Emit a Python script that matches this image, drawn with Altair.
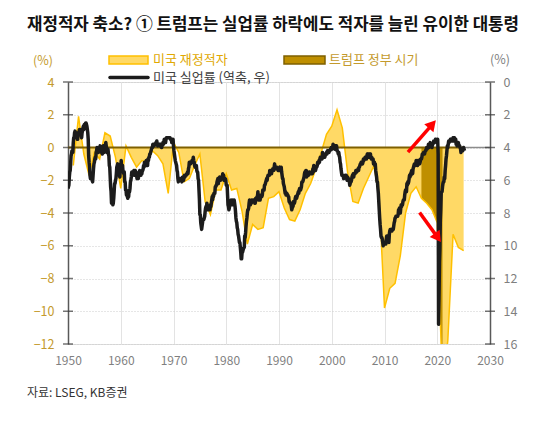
import math

import altair as alt
import pandas as pd

# ---------------------------------------------------------------- text
TITLE = "재정적자 축소? ① 트럼프는 실업률 하락에도 적자를 늘린 유이한 대통령"
SOURCE = "자료: LSEG, KB증권"
UNIT = "(%)"
LABEL_DEFICIT = "미국 재정적자"
LABEL_TRUMP = "트럼프 정부 시기"
LABEL_UNEMP = "미국 실업률 (역축, 우)"

YEAR_TICKS = [1950, 1960, 1970, 1980, 1990, 2000, 2010, 2020, 2030]
LEFT_TICKS = [-12, -10, -8, -6, -4, -2, 0, 2, 4]
RIGHT_TICKS = [0, 2, 4, 6, 8, 10, 12, 14, 16]

# ---------------------------------------------------------------- data
# Federal budget balance, % of GDP, by fiscal year
FISCAL_YEARS = list(range(1950, 2025))
BUDGET_BALANCE = [
    -1.1, 1.9, -0.4, -1.7, -0.3, -0.7, 0.9, 0.7, -0.6, -2.5,      # 1950s
    0.1, -0.6, -1.2, -0.8, -0.9, -0.2, -0.5, -1.0, -2.8, 0.3,     # 1960s
    -0.3, -2.1, -1.9, -1.1, -0.4, -3.3, -4.1, -2.6, -2.6, -1.6,   # 1970s
    -2.6, -2.5, -3.9, -5.9, -4.7, -5.0, -4.9, -3.1, -3.0, -2.7,   # 1980s
    -3.7, -4.4, -4.5, -3.8, -2.8, -2.2, -1.3, -0.3, 0.8, 1.3,     # 1990s
    2.3, 1.2, -1.5, -3.3, -3.4, -2.5, -1.8, -1.1, -3.1, -9.8,     # 2000s
    -8.6, -8.3, -6.6, -4.0, -2.8, -2.4, -3.1, -3.4, -3.8, -4.6,   # 2010s
    -14.7, -11.8, -5.3, -6.1, -6.3,                               # 2020s
]

# Trump administration, on the chart's time axis
TRUMP_FROM, TRUMP_TO = 2017, 2021

# Monthly unemployment rate (%), from January 1950
UNEMP_FIRST_YEAR = 1950
UNEMP_1950S = [
    6.5, 6.4, 6.3, 5.8, 5.5, 5.4, 5.0, 4.5, 4.4, 4.2, 4.2, 4.3,
    3.7, 3.4, 3.4, 3.1, 3.0, 3.2, 3.1, 3.1, 3.3, 3.5, 3.5, 3.1,
    3.2, 3.1, 2.9, 2.9, 3.0, 3.0, 3.2, 3.4, 3.1, 3.0, 2.8, 2.7,
    2.9, 2.6, 2.6, 2.7, 2.5, 2.5, 2.6, 2.7, 2.9, 3.1, 3.5, 4.5,
    4.9, 5.2, 5.7, 5.9, 5.9, 5.6, 5.8, 6.0, 6.1, 5.7, 5.3, 5.0,
    4.9, 4.7, 4.6, 4.7, 4.3, 4.2, 4.0, 4.2, 4.1, 4.3, 4.2, 4.2,
    4.0, 3.9, 4.2, 4.0, 4.3, 4.3, 4.4, 4.1, 3.9, 3.9, 4.3, 4.2,
    4.2, 3.9, 3.7, 3.9, 4.1, 4.3, 4.2, 4.1, 4.4, 4.5, 5.1, 5.2,
    5.8, 6.4, 6.7, 7.4, 7.4, 7.3, 7.5, 7.4, 7.1, 6.7, 6.2, 6.2,
    6.0, 5.9, 5.6, 5.2, 5.1, 5.0, 5.1, 5.2, 5.5, 5.7, 5.8, 5.3,
]
UNEMP_1960S = [
    5.2, 4.8, 5.4, 5.2, 5.1, 5.4, 5.5, 5.6, 5.5, 6.1, 6.1, 6.6,
    6.6, 6.9, 6.9, 7.0, 7.1, 6.9, 7.0, 6.6, 6.7, 6.5, 6.1, 6.0,
    5.8, 5.5, 5.6, 5.6, 5.5, 5.5, 5.4, 5.7, 5.6, 5.4, 5.7, 5.5,
    5.7, 5.9, 5.7, 5.7, 5.9, 5.6, 5.6, 5.4, 5.5, 5.5, 5.7, 5.5,
    5.6, 5.4, 5.4, 5.3, 5.1, 5.2, 4.9, 5.0, 5.1, 5.1, 4.8, 5.0,
    4.9, 5.1, 4.7, 4.8, 4.6, 4.6, 4.4, 4.4, 4.3, 4.2, 4.1, 4.0,
    4.0, 3.8, 3.8, 3.8, 3.9, 3.8, 3.8, 3.8, 3.7, 3.7, 3.6, 3.8,
    3.9, 3.8, 3.8, 3.8, 3.8, 3.9, 3.8, 3.8, 3.8, 4.0, 3.9, 3.8,
    3.7, 3.8, 3.7, 3.5, 3.5, 3.7, 3.7, 3.5, 3.4, 3.4, 3.4, 3.4,
    3.4, 3.4, 3.4, 3.4, 3.4, 3.5, 3.5, 3.5, 3.7, 3.7, 3.5, 3.5,
]
UNEMP_1970S = [
    3.9, 4.2, 4.4, 4.6, 4.8, 4.9, 5.0, 5.1, 5.4, 5.5, 5.9, 6.1,
    5.9, 5.9, 6.0, 5.9, 5.9, 5.9, 6.0, 6.1, 6.0, 5.8, 6.0, 6.0,
    5.8, 5.7, 5.8, 5.7, 5.7, 5.7, 5.6, 5.6, 5.5, 5.6, 5.3, 5.2,
    4.9, 5.0, 4.9, 5.0, 4.9, 4.9, 4.8, 4.8, 4.8, 4.6, 4.8, 4.9,
    5.1, 5.2, 5.1, 5.1, 5.1, 5.4, 5.5, 5.5, 5.9, 6.0, 6.6, 7.2,
    8.1, 8.1, 8.6, 8.8, 9.0, 8.8, 8.6, 8.4, 8.4, 8.4, 8.3, 8.2,
    7.9, 7.7, 7.6, 7.7, 7.4, 7.6, 7.8, 7.8, 7.6, 7.7, 7.8, 7.8,
    7.5, 7.6, 7.4, 7.2, 7.0, 7.2, 6.9, 7.0, 6.8, 6.8, 6.8, 6.4,
    6.4, 6.3, 6.3, 6.1, 6.0, 5.9, 6.2, 5.9, 6.0, 5.8, 5.9, 6.0,
    5.9, 5.9, 5.8, 5.8, 5.6, 5.7, 5.7, 6.0, 5.9, 6.0, 5.9, 6.0,
]
UNEMP_1980S = [
    6.3, 6.3, 6.3, 6.9, 7.5, 7.6, 7.8, 7.7, 7.5, 7.5, 7.5, 7.2,
    7.5, 7.4, 7.4, 7.2, 7.5, 7.5, 7.2, 7.4, 7.6, 7.9, 8.3, 8.5,
    8.6, 8.9, 9.0, 9.3, 9.4, 9.6, 9.8, 9.8, 10.1, 10.4, 10.8, 10.8,
    10.4, 10.4, 10.3, 10.2, 10.1, 10.1, 9.4, 9.5, 9.2, 8.8, 8.5, 8.3,
    8.0, 7.8, 7.8, 7.7, 7.4, 7.2, 7.5, 7.5, 7.3, 7.4, 7.2, 7.3,
    7.3, 7.2, 7.2, 7.3, 7.2, 7.4, 7.4, 7.1, 7.1, 7.1, 7.0, 7.0,
    6.7, 7.2, 7.2, 7.1, 7.2, 7.2, 7.0, 6.9, 7.0, 7.0, 6.9, 6.6,
    6.6, 6.6, 6.6, 6.3, 6.3, 6.2, 6.1, 6.0, 5.9, 6.0, 5.8, 5.7,
    5.7, 5.7, 5.7, 5.4, 5.6, 5.4, 5.4, 5.6, 5.4, 5.4, 5.3, 5.3,
    5.4, 5.2, 5.0, 5.2, 5.2, 5.3, 5.2, 5.2, 5.3, 5.3, 5.4, 5.4,
]
UNEMP_1990S = [
    5.4, 5.3, 5.2, 5.4, 5.4, 5.2, 5.5, 5.7, 5.9, 5.9, 6.2, 6.3,
    6.4, 6.6, 6.8, 6.7, 6.9, 6.9, 6.8, 6.9, 6.9, 7.0, 7.0, 7.3,
    7.3, 7.4, 7.4, 7.4, 7.6, 7.8, 7.7, 7.6, 7.6, 7.3, 7.4, 7.4,
    7.3, 7.1, 7.0, 7.1, 7.1, 7.0, 6.9, 6.8, 6.7, 6.8, 6.6, 6.5,
    6.6, 6.6, 6.5, 6.4, 6.1, 6.1, 6.1, 6.0, 5.9, 5.8, 5.6, 5.5,
    5.6, 5.4, 5.4, 5.8, 5.6, 5.6, 5.7, 5.7, 5.6, 5.5, 5.6, 5.6,
    5.6, 5.5, 5.5, 5.6, 5.6, 5.3, 5.5, 5.1, 5.2, 5.2, 5.4, 5.4,
    5.3, 5.2, 5.2, 5.1, 4.9, 5.0, 4.9, 4.8, 4.9, 4.7, 4.6, 4.7,
    4.6, 4.6, 4.7, 4.3, 4.4, 4.5, 4.5, 4.5, 4.6, 4.5, 4.4, 4.4,
    4.3, 4.4, 4.2, 4.3, 4.2, 4.3, 4.3, 4.2, 4.2, 4.1, 4.1, 4.0,
]
UNEMP_2000S = [
    4.0, 4.1, 4.0, 3.8, 4.0, 4.0, 4.0, 4.1, 3.9, 3.9, 3.9, 3.9,
    4.2, 4.2, 4.3, 4.4, 4.3, 4.5, 4.6, 4.9, 5.0, 5.3, 5.5, 5.7,
    5.7, 5.7, 5.7, 5.9, 5.8, 5.8, 5.8, 5.7, 5.7, 5.7, 5.9, 6.0,
    5.8, 5.9, 5.9, 6.0, 6.1, 6.3, 6.2, 6.1, 6.1, 6.0, 5.8, 5.7,
    5.7, 5.6, 5.8, 5.6, 5.6, 5.6, 5.5, 5.4, 5.4, 5.5, 5.4, 5.4,
    5.3, 5.4, 5.2, 5.2, 5.1, 5.0, 5.0, 4.9, 5.0, 5.0, 5.0, 4.9,
    4.7, 4.8, 4.7, 4.7, 4.6, 4.6, 4.7, 4.7, 4.5, 4.4, 4.5, 4.4,
    4.6, 4.5, 4.4, 4.5, 4.4, 4.6, 4.7, 4.6, 4.7, 4.7, 4.7, 5.0,
    5.0, 4.9, 5.1, 5.0, 5.4, 5.6, 5.8, 6.1, 6.1, 6.5, 6.8, 7.3,
    7.8, 8.3, 8.7, 9.0, 9.4, 9.5, 9.5, 9.6, 9.8, 10.0, 9.9, 9.9,
]
UNEMP_2010S = [
    9.8, 9.8, 9.9, 9.9, 9.6, 9.4, 9.4, 9.5, 9.5, 9.4, 9.8, 9.3,
    9.1, 9.0, 9.0, 9.1, 9.0, 9.1, 9.0, 9.0, 9.0, 8.8, 8.6, 8.5,
    8.3, 8.3, 8.2, 8.2, 8.2, 8.2, 8.2, 8.1, 7.8, 7.8, 7.7, 7.9,
    8.0, 7.7, 7.5, 7.6, 7.5, 7.5, 7.3, 7.2, 7.2, 7.2, 6.9, 6.7,
    6.6, 6.7, 6.7, 6.2, 6.3, 6.1, 6.2, 6.1, 5.9, 5.7, 5.8, 5.6,
    5.7, 5.5, 5.4, 5.4, 5.6, 5.3, 5.2, 5.1, 5.0, 5.0, 5.1, 5.0,
    4.8, 4.9, 5.0, 5.1, 4.8, 4.9, 4.8, 4.9, 5.0, 4.9, 4.7, 4.7,
    4.7, 4.6, 4.4, 4.4, 4.4, 4.3, 4.3, 4.4, 4.3, 4.2, 4.2, 4.1,
    4.0, 4.1, 4.0, 4.0, 3.8, 4.0, 3.8, 3.8, 3.7, 3.8, 3.8, 3.9,
    4.0, 3.8, 3.8, 3.7, 3.6, 3.6, 3.7, 3.6, 3.5, 3.6, 3.6, 3.6,
]
UNEMP_2020S = [
    3.5, 3.5, 4.4, 14.8, 13.2, 11.0, 10.2, 8.4, 7.8, 6.8, 6.7, 6.7,
    6.4, 6.2, 6.1, 6.1, 5.8, 5.9, 5.4, 5.1, 4.7, 4.5, 4.2, 3.9,
    4.0, 3.8, 3.6, 3.7, 3.6, 3.6, 3.5, 3.6, 3.5, 3.6, 3.6, 3.5,
    3.4, 3.6, 3.5, 3.4, 3.6, 3.6, 3.5, 3.8, 3.8, 3.9, 3.7, 3.7,
    3.7, 3.9, 3.9, 3.9, 4.0, 4.1, 4.3, 4.2, 4.1, 4.1, 4.2, 4.1,
    4.0, 4.1, 4.2,
]

# Red annotation arrows: (tail year, tail value, tip year, tip value) on the left scale
ARROWS = [
    (2014.45, -0.28, 2019.82, 1.69),
    (2016.65, -3.97, 2020.77, -5.80),
]

# ---------------------------------------------------------------- layout / style
W, H = 422, 262
X_MIN, X_MAX = 1950, 2030
L_MIN, L_MAX = -12, 4
FONT = "Noto Sans CJK KR"

C_FILL = "#FFD966"
C_EDGE = "#FFC000"
C_TRUMP = "#BF8F00"
C_TRUMP_EDGE = "#7F6000"
C_ZERO = "#7F6000"
C_LINE = "#1C1C1C"
C_GOLD_TXT = "#C49A2C"
C_GRAY_TXT = "#7F7F7F"
C_AXIS = "#595959"

# ---------------------------------------------------------------- frames
balance = pd.DataFrame({
    "x": [fy + 1 for fy in FISCAL_YEARS],   # each fiscal year closes at the next tick
    "v": BUDGET_BALANCE,
})
trump = balance[(balance["x"] >= TRUMP_FROM) & (balance["x"] <= TRUMP_TO)]

unemp_values = (UNEMP_1950S + UNEMP_1960S + UNEMP_1970S + UNEMP_1980S
                + UNEMP_1990S + UNEMP_2000S + UNEMP_2010S + UNEMP_2020S)
unemp = pd.DataFrame({
    "x": [UNEMP_FIRST_YEAR + i / 12 for i in range(len(unemp_values))],
    "u": unemp_values,
})
last_x = float(balance["x"].max())

px_x = W / (X_MAX - X_MIN)
px_y = H / (L_MAX - L_MIN)
head_back = 6.0
shaft_rows, head_rows = [], []
for x0, y0, x1, y1 in ARROWS:
    dx, dy = (x1 - x0) * px_x, (y1 - y0) * px_y
    length = math.hypot(dx, dy)
    cx = x1 - dx / length * head_back / px_x
    cy = y1 - dy / length * head_back / px_y
    ang = math.degrees(math.atan2(dx, dy)) % 360
    shaft_rows.append({"x": x0, "v": y0, "x2": cx, "v2": cy})
    head_rows.append({"x": cx, "v": cy, "ang": ang})
shafts = pd.DataFrame(shaft_rows)
heads = pd.DataFrame(head_rows)

ticks_left = pd.DataFrame({"v": LEFT_TICKS})

# ---------------------------------------------------------------- encodings
x_scale = alt.Scale(domain=[X_MIN, X_MAX], nice=False, zero=False)
x_axis = alt.Axis(
    values=YEAR_TICKS, format="d", title=None, grid=True, gridColor="#E3E3E3",
    gridWidth=1, domain=False, ticks=False, tickSize=0, labelPadding=16,
    labelBaseline="middle", labelFlush=False, labelOverlap=False,
    labelColor=C_GRAY_TXT, labelFontSize=12, labelFont=FONT,
)
X = alt.X("x:Q", scale=x_scale, axis=x_axis)

left_scale = alt.Scale(domain=[L_MIN, L_MAX], nice=False, zero=False)
left_axis = alt.Axis(
    values=LEFT_TICKS, orient="left", title=None, grid=True, gridColor="#CCCCCC",
    gridDash=[1, 2], gridWidth=1, domainColor=C_AXIS, domainWidth=1.5, ticks=False,
    tickSize=0, labelPadding=14, labelColor=C_GOLD_TXT, labelFontSize=12.5,
    labelFlush=False, labelFont=FONT,
)
YL = alt.Y("v:Q", scale=left_scale, axis=left_axis)

right_scale = alt.Scale(domain=[0, 16], reverse=True, nice=False, zero=False)
right_axis = alt.Axis(
    values=RIGHT_TICKS, orient="right", title=None, grid=False, domainColor=C_AXIS,
    domainWidth=1.5, ticks=False, tickSize=0, labelPadding=13, labelColor=C_GRAY_TXT,
    labelFontSize=12.5, labelFlush=False, labelFont=FONT,
)

# ---------------------------------------------------------------- left-scale layers
deficit_area = alt.Chart(balance).mark_area(color=C_FILL, opacity=1, clip=True).encode(
    x=X, y=YL, y2=alt.datum(0)
)
trump_area = alt.Chart(trump).mark_area(color=C_TRUMP, opacity=1, clip=True).encode(
    x=X, y=YL, y2=alt.datum(0)
)
deficit_edge = alt.Chart(balance).mark_line(color=C_EDGE, strokeWidth=1.5, clip=True).encode(
    x=X, y=YL
)
zero_main = alt.Chart(pd.DataFrame({"x": [X_MIN], "x2": [last_x], "v": [0]})).mark_rule(
    color=C_ZERO, strokeWidth=2
).encode(x=X, x2="x2:Q", y=YL)
zero_tail = alt.Chart(pd.DataFrame({"x": [last_x], "x2": [X_MAX], "v": [0]})).mark_rule(
    color="#8C8C8C", strokeWidth=1.5
).encode(x=X, x2="x2:Q", y=YL)
ticks_l = alt.Chart(ticks_left).mark_tick(
    orient="horizontal", size=10, thickness=1.5, color="#3A3A3A"
).encode(x=alt.datum(X_MIN), y=YL)
ticks_r = alt.Chart(ticks_left).mark_tick(
    orient="horizontal", size=10, thickness=1.5, color="#3A3A3A"
).encode(x=alt.datum(X_MAX), y=YL)


def label(text, x, y, size=13, color="#333333", weight="normal", align="left"):
    return alt.Chart(pd.DataFrame({"t": [text]})).mark_text(
        align=align, baseline="middle", font=FONT, fontSize=size, color=color,
        fontWeight=weight,
    ).encode(x=alt.value(x), y=alt.value(y), text="t:N")


def swatch(x0, x1, y0, y1, fill, stroke):
    return alt.Chart(pd.DataFrame({"k": [0]})).mark_rect(
        fill=fill, stroke=stroke, strokeWidth=1.5
    ).encode(x=alt.value(x0), x2=alt.value(x1), y=alt.value(y0), y2=alt.value(y1))


title = label(TITLE, -41, -57, size=16.8, color="#111111", weight="bold")
unit_l = label(UNIT, -25, -21, size=12.5, color=C_GOLD_TXT, align="center")
unit_r = label(UNIT, 432, -22, size=12.5, color=C_GRAY_TXT, align="center")
leg1_box = swatch(41, 80, -26, -18, C_FILL, C_EDGE)
leg1_txt = label(LABEL_DEFICIT, 85, -22, color="#E0A800")
leg2_box = swatch(216, 257, -26, -18, C_TRUMP, C_TRUMP_EDGE)
leg2_txt = label(LABEL_TRUMP, 261, -22, color="#C49A2C")
leg3_line = alt.Chart(pd.DataFrame({"k": [0]})).mark_rule(
    color=C_LINE, strokeWidth=3.5, strokeCap="round"
).encode(x=alt.value(42), x2=alt.value(80), y=alt.value(-4.5))
leg3_txt = label(LABEL_UNEMP, 85, -4.5, color="#404040")
source = label(SOURCE, -41, 311, size=12, color="#333333")

left_group = alt.layer(
    deficit_area, trump_area, deficit_edge, zero_main, zero_tail, ticks_l, ticks_r,
    title, unit_l, unit_r, leg1_box, leg1_txt, leg2_box, leg2_txt, leg3_line,
    leg3_txt, source,
)

# ---------------------------------------------------------------- right-scale layer
unemp_line = alt.Chart(unemp).mark_line(
    color=C_LINE, strokeWidth=3.5, strokeJoin="round", clip=True
).encode(x=X, y=alt.Y("u:Q", scale=right_scale, axis=right_axis))

# ---------------------------------------------------------------- annotations
YA = alt.Y("v:Q", scale=left_scale, axis=None)
arrow_shafts = alt.Chart(shafts).mark_rule(color="#FF0000", strokeWidth=3.5).encode(
    x=X, y=YA, x2="x2:Q", y2="v2:Q"
)
arrow_heads = alt.Chart(heads).mark_point(
    shape="triangle-up", filled=True, color="#FF0000", opacity=1, size=150
).encode(x=X, y=YA, angle=alt.Angle("ang:Q", scale=None))
arrow_group = alt.layer(arrow_shafts, arrow_heads)

chart = alt.layer(left_group, unemp_line, arrow_group).resolve_scale(
    y="independent"
).properties(
    width=W,
    height=H,
    padding={"left": 68, "top": 82, "right": 54, "bottom": 78},
    autosize=alt.AutoSizeParams(type="none"),
).configure_view(stroke=None).configure(background="white")

chart.save("out.html", embed_options={"renderer": "svg", "actions": False})
